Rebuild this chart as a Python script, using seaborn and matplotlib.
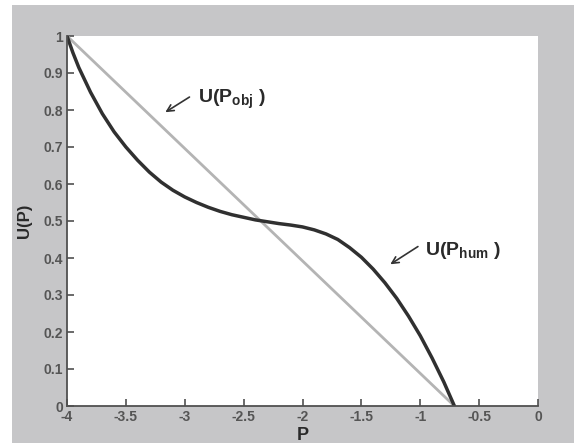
import numpy as np
import pandas as pd
import matplotlib
matplotlib.use("Agg")
import matplotlib.pyplot as plt
from matplotlib.patches import Rectangle
import seaborn as sns

# ---- data ----
p_obj = [-4.0, -0.71]
u_obj = [1.0, 0.0]

p_hum = [-4.0, -3.95, -3.9, -3.8, -3.7, -3.6, -3.5, -3.4, -3.3, -3.2, -3.1,
         -3.0, -2.9, -2.8, -2.7, -2.6, -2.5, -2.4, -2.3, -2.2, -2.1, -2.0,
         -1.9, -1.8, -1.7, -1.6, -1.5, -1.4, -1.3, -1.2, -1.1, -1.0, -0.9,
         -0.8, -0.71]
u_hum = [1.0, 0.955, 0.915, 0.848, 0.790, 0.741, 0.700, 0.664, 0.632, 0.605,
         0.583, 0.565, 0.550, 0.537, 0.526, 0.517, 0.510, 0.503, 0.498, 0.493,
         0.489, 0.484, 0.476, 0.465, 0.450, 0.428, 0.402, 0.370, 0.333, 0.291,
         0.243, 0.190, 0.130, 0.065, 0.0]

x_ticks = [-4, -3.5, -3, -2.5, -2, -1.5, -1, -0.5, 0]
x_tick_labels = ["-4", "-3.5", "-3", "-2.5", "-2", "-1.5", "-1", "-0.5", "0"]
y_ticks = [0, 0.1, 0.2, 0.3, 0.4, 0.5, 0.6, 0.7, 0.8, 0.9, 1]
y_tick_labels = ["0", "0.1", "0.2", "0.3", "0.4", "0.5", "0.6", "0.7", "0.8", "0.9", "1"]

sns.set_theme(style="ticks")
plt.rcParams["font.family"] = ["Liberation Sans", "DejaVu Sans"]
plt.rcParams["mathtext.fontset"] = "custom"
plt.rcParams["mathtext.rm"] = "Liberation Sans:bold"
plt.rcParams["mathtext.bf"] = "Liberation Sans:bold"
plt.rcParams["mathtext.it"] = "Liberation Sans:bold"

W, H = 574, 443
fig = plt.figure(figsize=(W / 100, H / 100), dpi=100, facecolor="white")
fig.patches.append(Rectangle((12 / W, 0), 1 - 12 / W, 1 - 5 / H,
                             transform=fig.transFigure, facecolor="#c6c6c8",
                             edgecolor="none", zorder=-5))
ax = fig.add_axes([67 / W, 1 - 406 / H, (538 - 67) / W, (406 - 36) / H])
ax.set_facecolor("white")

df_obj = pd.DataFrame({"P": p_obj, "U": u_obj})
df_hum = pd.DataFrame({"P": p_hum, "U": u_hum})
sns.lineplot(data=df_obj, x="P", y="U", ax=ax, color="#b4b4b4", linewidth=2.0,
             sort=False)
sns.lineplot(data=df_hum, x="P", y="U", ax=ax, color="#303030", linewidth=2.5,
             sort=False)

ax.set_xlim(-4, 0)
ax.set_ylim(0, 1)
ax.set_xticks(x_ticks)
ax.set_xticklabels(x_tick_labels)
ax.set_yticks(y_ticks)
ax.set_yticklabels(y_tick_labels)
ax.tick_params(direction="in", length=5, width=1.2, color="#505050",
               labelsize=10, labelcolor="#555555", pad=3)
for lab in ax.get_xticklabels() + ax.get_yticklabels():
    lab.set_fontweight("bold")
for s in ["top", "right"]:
    ax.spines[s].set_visible(False)
for s in ["left", "bottom"]:
    ax.spines[s].set_color("#505050")
    ax.spines[s].set_linewidth(1.3)

ax.set_xlabel("P", fontsize=13, fontweight="bold", color="#2a2a2a", labelpad=2)
ax.set_ylabel("U(P)", fontsize=12, fontweight="bold", color="#2a2a2a", labelpad=8)

arrow_kw = dict(arrowstyle="->", color="#333333", lw=1.2, mutation_scale=12)
ax.annotate("", xy=(-3.185, 0.790), xytext=(-2.94, 0.839), arrowprops=arrow_kw)
ax.text(-2.885, 0.82, r"U(P$_{\mathbf{obj}}$ )", fontsize=14, fontweight="bold",
        color="#2a2a2a", va="baseline", ha="left")
ax.annotate("", xy=(-1.274, 0.379), xytext=(-1.0, 0.435), arrowprops=arrow_kw)
ax.text(-0.96, 0.409, r"U(P$_{\mathbf{hum}}$ )", fontsize=14, fontweight="bold",
        color="#2a2a2a", va="baseline", ha="left")

fig.savefig("out.png", dpi=100, facecolor=fig.get_facecolor())
